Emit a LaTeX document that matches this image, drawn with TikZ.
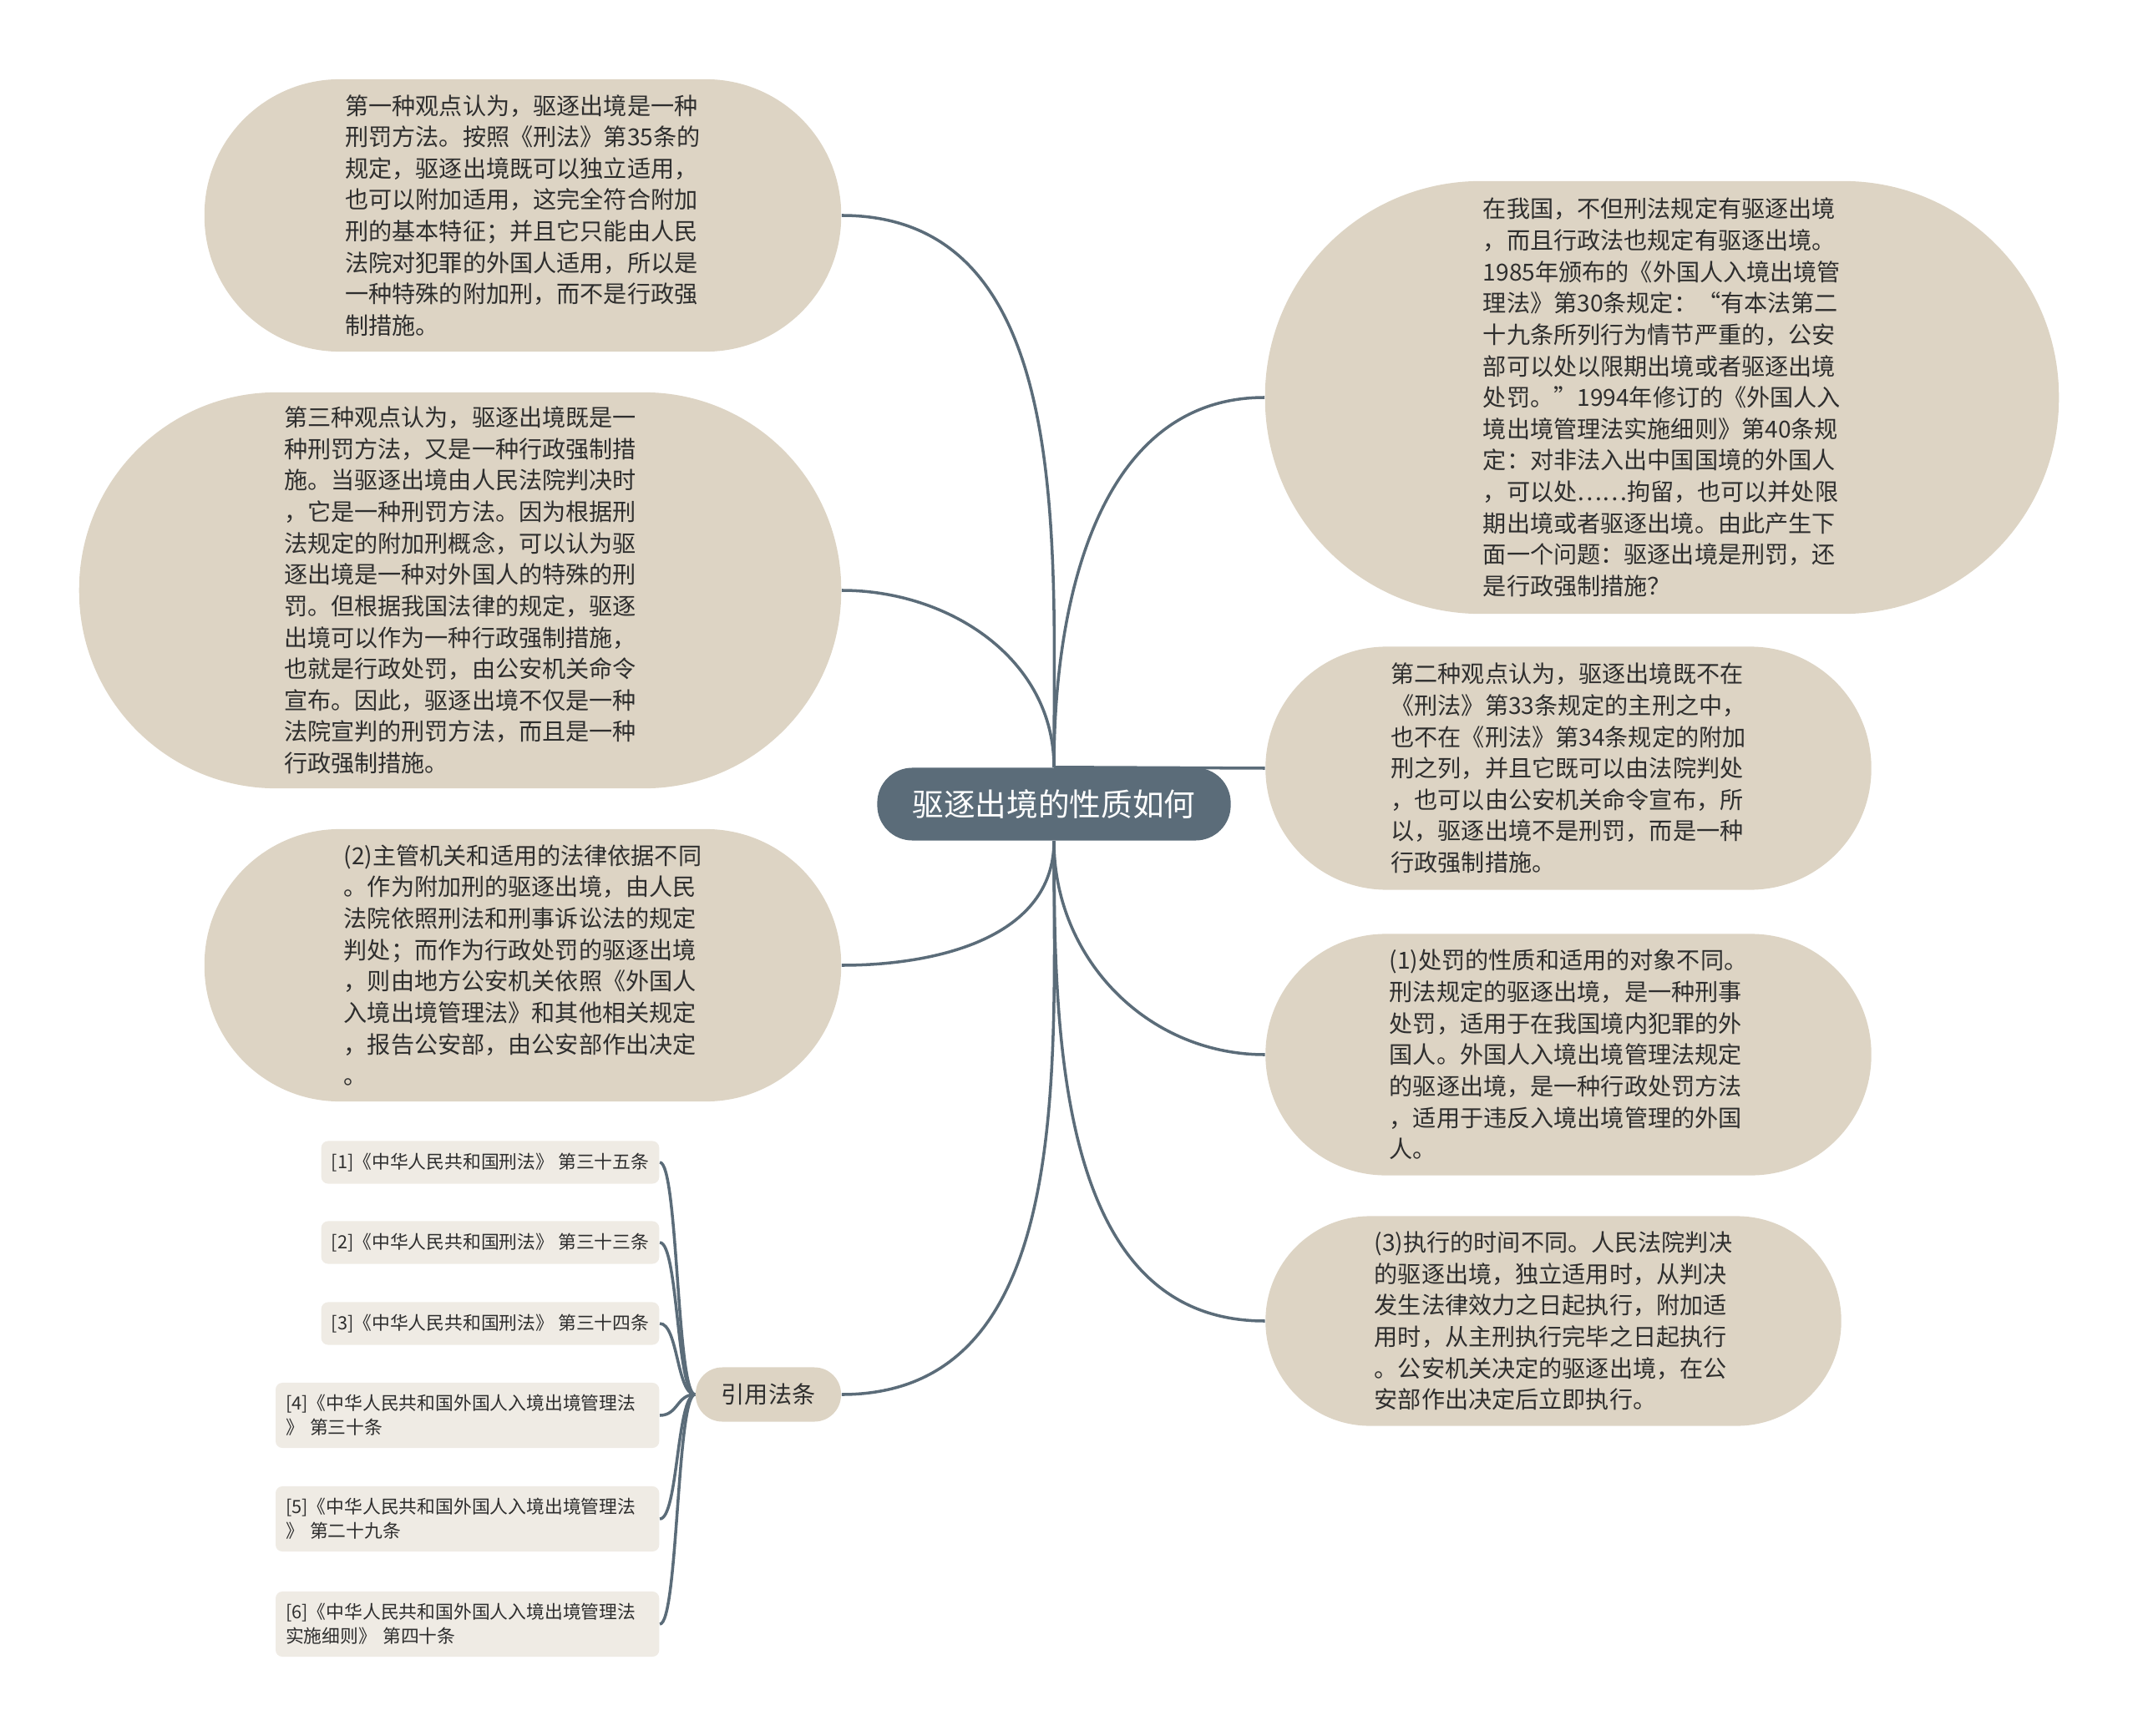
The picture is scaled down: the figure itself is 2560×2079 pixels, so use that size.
\documentclass[tikz,border=0pt]{standalone}
\usepackage{fontspec}
\setmainfont{Noto Sans CJK SC}
\usetikzlibrary{backgrounds}
\definecolor{slate}{HTML}{5B6C79}
\definecolor{sand}{HTML}{DDD4C4}
\definecolor{paper}{HTML}{EFEBE4}
\definecolor{ink}{HTML}{2E2E2E}
\tikzset{
  topic/.style={fill=slate,text=white,font=\fontsize{10.7}{12}\selectfont,rounded corners=0.42cm,
                minimum width=4.23cm,minimum height=0.87cm,inner sep=0pt},
  idea/.style={fill=sand,text=ink,font=\fontsize{8}{10.7}\selectfont,align=left,inner sep=0pt},
  hub/.style={fill=sand,text=ink,font=\fontsize{8}{10}\selectfont,rounded corners=0.32cm,
              minimum width=1.74cm,minimum height=0.65cm,inner sep=0pt},
  cite/.style={fill=paper,text=ink,font=\fontsize{6.2}{8.3}\selectfont,align=left,anchor=east,
               rounded corners=0.08cm,inner xsep=0.12cm,inner ysep=0pt},
  wire/.style={draw=slate,line width=1pt},
}

\begin{document}
\begin{tikzpicture}[x=0.01cm,y=-0.01cm]
  \useasboundingbox (0,0) rectangle (2560,2079);
  % central topic
  \node[topic] (c) at (1262,963){驱逐出境的性质如何};

  % left ideas
  \node[idea,minimum width=7.62cm,minimum height=3.26cm,rounded corners=1.62cm] (lt1) at (626,258){%
    第一种观点认为，驱逐出境是一种\\刑罚方法。按照《刑法》第35条的\\规定，驱逐出境既可以独立适用，\\
    也可以附加适用，这完全符合附加\\刑的基本特征；并且它只能由人民\\法院对犯罪的外国人适用，所以是\\
    一种特殊的附加刑，而不是行政强\\制措施。};
  \node[idea,minimum width=9.12cm,minimum height=4.74cm,rounded corners=2.36cm] (lt2) at (551,707){%
    第三种观点认为，驱逐出境既是一\\种刑罚方法，又是一种行政强制措\\施。当驱逐出境由人民法院判决时\\
    ，它是一种刑罚方法。因为根据刑\\法规定的附加刑概念，可以认为驱\\逐出境是一种对外国人的特殊的刑\\
    罚。但根据我国法律的规定，驱逐\\出境可以作为一种行政强制措施，\\也就是行政处罚，由公安机关命令\\
    宣布。因此，驱逐出境不仅是一种\\法院宣判的刑罚方法，而且是一种\\行政强制措施。};
  \node[idea,minimum width=7.62cm,minimum height=3.26cm,rounded corners=1.62cm] (lt3) at (626,1156){%
    (2)主管机关和适用的法律依据不同\\。作为附加刑的驱逐出境，由人民\\法院依照刑法和刑事诉讼法的规定\\
    判处；而作为行政处罚的驱逐出境\\，则由地方公安机关依照《外国人\\入境出境管理法》和其他相关规定\\
    ，报告公安部，由公安部作出决定\\。};

  % right ideas
  \node[idea,minimum width=9.5cm,minimum height=5.18cm,rounded corners=2.58cm] (rt1) at (1990,476){%
    在我国，不但刑法规定有驱逐出境\\，而且行政法也规定有驱逐出境。\\1985年颁布的《外国人入境出境管\\
    理法》第30条规定：“有本法第二\\十九条所列行为情节严重的，公安\\部可以处以限期出境或者驱逐出境\\
    处罚。”1994年修订的《外国人入\\境出境管理法实施细则》第40条规\\定：对非法入出中国国境的外国人\\
    ，可以处……拘留，也可以并处限\\期出境或者驱逐出境。由此产生下\\面一个问题：驱逐出境是刑罚，还\\
    是行政强制措施？};
  \node[idea,minimum width=7.25cm,minimum height=2.91cm,rounded corners=1.45cm] (rt2) at (1878,920){%
    第二种观点认为，驱逐出境既不在\\《刑法》第33条规定的主刑之中，\\也不在《刑法》第34条规定的附加\\
    刑之列，并且它既可以由法院判处\\，也可以由公安机关命令宣布，所\\以，驱逐出境不是刑罚，而是一种\\
    行政强制措施。};
  \node[idea,minimum width=7.25cm,minimum height=2.89cm,rounded corners=1.44cm] (rt3) at (1878,1263){%
    (1)处罚的性质和适用的对象不同。\\刑法规定的驱逐出境，是一种刑事\\处罚，适用于在我国境内犯罪的外\\
    国人。外国人入境出境管理法规定\\的驱逐出境，是一种行政处罚方法\\，适用于违反入境出境管理的外国\\
    人。};
  \node[idea,minimum width=6.89cm,minimum height=2.51cm,rounded corners=1.25cm] (rt4) at (1860,1582){%
    (3)执行的时间不同。人民法院判决\\的驱逐出境，独立适用时，从判决\\发生法律效力之日起执行，附加适\\
    用时，从主刑执行完毕之日起执行\\。公安机关决定的驱逐出境，在公\\安部作出决定后立即执行。};

  % cited articles
  \node[hub] (cites) at (920,1670){引用法条};
  \foreach \i/\y/\t in {
      1/1392/{[1]《中华人民共和国刑法》 第三十五条},
      2/1488/{[2]《中华人民共和国刑法》 第三十三条},
      3/1585/{[3]《中华人民共和国刑法》 第三十四条}}{
    \node[cite,minimum height=0.51cm] (ref\i) at (790,\y){\t};
  }
  \foreach \i/\y/\t in {
      4/1695/{[4]《中华人民共和国外国人入境出境管理法\\》 第三十条},
      5/1819/{[5]《中华人民共和国外国人入境出境管理法\\》 第二十九条},
      6/1945/{[6]《中华人民共和国外国人入境出境管理法\\实施细则》 第四十条}}{
    \node[cite,text width=4.35cm,minimum height=0.78cm] (ref\i) at (790,\y){\t};
  }

  \begin{scope}[on background layer]
    \draw[wire] (c.north) to[out=90,in=0] (lt1.east);
    \draw[wire] (c.north) to[out=90,in=0] (lt2.east);
    \draw[wire] (c.south) to[out=-90,in=0] (lt3.east);
    \draw[wire] (c.south) to[out=-90,in=0] (cites.east);
    \draw[wire] (c.north) to[out=90,in=180] (rt1.west);
    \draw[wire] (c.north) -- (rt2.west);
    \draw[wire] (c.south) to[out=-90,in=180] (rt3.west);
    \draw[wire] (c.south) to[out=-90,in=180] (rt4.west);
    \foreach \i in {1,...,6}{\draw[wire] (cites.west) .. controls +(-22,0) and +(22,0) .. (ref\i.east);}
  \end{scope}
\end{tikzpicture}
\end{document}
